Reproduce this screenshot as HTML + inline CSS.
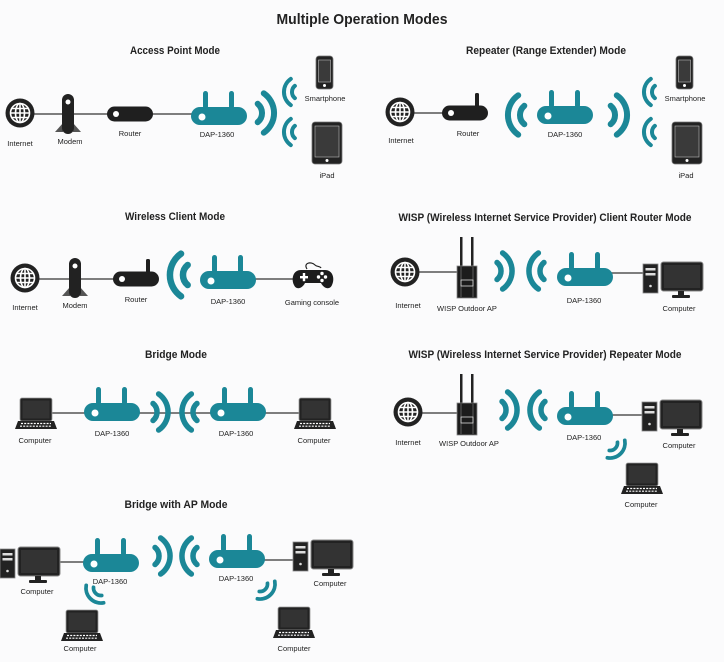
<!DOCTYPE html>
<html><head><meta charset="utf-8"><style>
html,body{margin:0;padding:0;background:#fbfbfc;}
svg{display:block;font-family:"Liberation Sans",sans-serif;}
.t{font-weight:bold;font-size:11px;fill:#222;text-anchor:middle;}
.l{font-size:7.5px;fill:#222;text-anchor:middle;}
.ln{stroke:#555;stroke-width:1.6;fill:none;}
</style></head><body>
<svg width="724" height="662" viewBox="0 0 724 662" xmlns="http://www.w3.org/2000/svg">
<defs>
<g id="globe"><circle r="14.5" fill="#222"/><g fill="none" stroke="#fff" stroke-width="1.6"><circle r="9.5"/><ellipse rx="4.5" ry="9.5"/><line x1="0" y1="-9.5" x2="0" y2="9.5"/><line x1="-9.5" y1="0" x2="9.5" y2="0"/><line x1="-8.5" y1="-4.5" x2="8.5" y2="-4.5"/><line x1="-8.5" y1="4.5" x2="8.5" y2="4.5"/></g></g>
<g id="modem"><polygon points="-5,8 -13,17 -5,17" fill="#555"/><polygon points="5,8 13,17 5,17" fill="#555"/><rect x="-6" y="-21" width="12" height="40" rx="6" fill="#222"/><circle cx="0" cy="-13" r="2.5" fill="#fff"/></g>
<g id="router"><rect x="-23" y="-7.5" width="46" height="15" rx="7.5" fill="#1f1f1f"/><circle cx="-14" cy="0" r="3" fill="#fff"/></g>
<g id="routerA"><rect x="10" y="-20" width="4" height="14" rx="1.5" fill="#1f1f1f"/><use href="#router"/></g>
<g id="dap"><rect x="-16" y="-25" width="5" height="18" rx="2.5" fill="#1b8797"/><rect x="10" y="-25" width="5" height="18" rx="2.5" fill="#1b8797"/><rect x="-28" y="-9" width="56" height="18" rx="9" fill="#1b8797"/><circle cx="-17" cy="1" r="3.5" fill="#fff"/></g>
<g id="wave" fill="none" stroke="#1b8797" stroke-width="5" stroke-linecap="round"><path d="M6.4,-7.7 A10,10 0 0 1 6.4,7.7"/><path d="M11.5,-16.4 A20,20 0 0 1 11.5,16.4"/></g>
<g id="phone"><rect x="0" y="0" width="17" height="33" rx="3" fill="#222" stroke="#777" stroke-width="0.8"/><rect x="2.5" y="4" width="12" height="22" fill="#3a3a3a" stroke="#bbb" stroke-width="0.6"/><circle cx="8.5" cy="29.5" r="1.5" fill="#fff"/></g>
<g id="ipad"><rect x="0" y="0" width="30" height="42" rx="3" fill="#222" stroke="#777" stroke-width="0.8"/><rect x="3" y="4" width="24" height="31" fill="#3a3a3a" stroke="#bbb" stroke-width="0.6"/><circle cx="15" cy="38.5" r="1.5" fill="#fff"/></g>
<g id="comp"><rect x="0" y="2" width="15" height="29" fill="#222" stroke="#888" stroke-width="0.8"/><rect x="2.5" y="6" width="10" height="2.5" fill="#ddd"/><rect x="2.5" y="11" width="10" height="2.5" fill="#ddd"/><circle cx="7.5" cy="24" r="1.3" fill="#ddd"/><rect x="18" y="0" width="42" height="29" rx="2.5" fill="#222" stroke="#888" stroke-width="1"/><rect x="21" y="3" width="36" height="23" fill="#333"/><rect x="35" y="29" width="6" height="4" fill="#222"/><rect x="29" y="33" width="18" height="3" rx="1" fill="#222"/></g>
<g id="laptop"><rect x="3" y="0" width="32" height="23" rx="2" fill="#222" stroke="#999" stroke-width="0.8"/><rect x="5.5" y="2.5" width="27" height="18" fill="#333"/><polygon points="1,23 37,23 40,31 -2,31" fill="#222"/><g stroke="#fff" stroke-width="1.2" stroke-dasharray="2 1.2"><line x1="4" y1="25.5" x2="34" y2="25.5"/><line x1="3" y1="28.2" x2="35" y2="28.2"/></g></g>
<g id="wisp"><rect x="3" y="0" width="2.5" height="32" fill="#222"/><rect x="14" y="0" width="2.5" height="32" fill="#222"/><rect x="0" y="29" width="20" height="32" fill="#1c1c1c" stroke="#888" stroke-width="0.8"/><line x1="4" y1="30" x2="4" y2="60" stroke="#777" stroke-width="0.7"/><line x1="16" y1="30" x2="16" y2="60" stroke="#777" stroke-width="0.7"/><rect x="4" y="43" width="12" height="6" fill="none" stroke="#ddd" stroke-width="0.8"/></g>
<g id="pad"><path d="M-6,-8 C-10,-14 -2,-16 2,-12 C4,-10 7,-11 8,-9" fill="none" stroke="#222" stroke-width="1.2"/><path d="M-12,-7 H12 C20,-7 22,2 19,8 C17,13 11,12 8,6 H-8 C-11,12 -17,13 -19,8 C-22,2 -20,-7 -12,-7 Z" fill="#1c1c1c"/><rect x="-13" y="-1" width="8" height="2.4" fill="#fff"/><rect x="-10.2" y="-4" width="2.4" height="8.2" fill="#fff"/><circle cx="9" cy="-3.5" r="1.7" fill="#fff"/><circle cx="9" cy="3.5" r="1.7" fill="#fff"/><circle cx="5.5" cy="0" r="1.7" fill="#fff"/><circle cx="12.5" cy="0" r="1.7" fill="#fff"/></g>
</defs>
<rect width="724" height="662" fill="#fbfbfc"/>
<text x="362" y="24" class="t" style="font-size:15px" textLength="171" lengthAdjust="spacingAndGlyphs">Multiple Operation Modes</text>

<!-- Access Point Mode -->
<text x="175" y="54" class="t" textLength="90" lengthAdjust="spacingAndGlyphs">Access Point Mode</text>
<line x1="20" y1="114" x2="212" y2="114" class="ln"/>
<use href="#globe" x="20" y="113"/>
<use href="#modem" x="68" y="115"/>
<use href="#router" x="130" y="114"/>
<use href="#dap" x="219" y="116"/>
<use href="#wave" transform="translate(250,113) scale(1.2)"/>
<use href="#wave" transform="translate(300,92) scale(-0.8,0.8)"/>
<use href="#wave" transform="translate(300,132) scale(-0.8,0.8)"/>
<use href="#phone" x="316" y="56"/>
<use href="#ipad" x="312" y="122"/>
<text x="20" y="146" class="l">Internet</text>
<text x="70" y="144" class="l">Modem</text>
<text x="130" y="136" class="l">Router</text>
<text x="217" y="137" class="l">DAP-1360</text>
<text x="325" y="101" class="l">Smartphone</text>
<text x="327" y="178" class="l">iPad</text>

<!-- Repeater -->
<text x="546" y="54" class="t" textLength="160" lengthAdjust="spacingAndGlyphs">Repeater (Range Extender) Mode</text>
<line x1="400" y1="113" x2="465" y2="113" class="ln"/>
<use href="#globe" x="400" y="112"/>
<use href="#routerA" x="465" y="113"/>
<use href="#wave" transform="translate(532,115) scale(-1.2,1.2)"/>
<use href="#dap" x="565" y="115"/>
<use href="#wave" transform="translate(603,115) scale(1.2)"/>
<use href="#wave" transform="translate(660,92) scale(-0.8,0.8)"/>
<use href="#wave" transform="translate(660,132) scale(-0.8,0.8)"/>
<use href="#phone" x="676" y="56"/>
<use href="#ipad" x="672" y="122"/>
<text x="401" y="143" class="l">Internet</text>
<text x="468" y="136" class="l">Router</text>
<text x="565" y="137" class="l">DAP-1360</text>
<text x="685" y="101" class="l">Smartphone</text>
<text x="686" y="178" class="l">iPad</text>

<!-- Wireless Client -->
<text x="175" y="220" class="t" textLength="100" lengthAdjust="spacingAndGlyphs">Wireless Client Mode</text>
<line x1="25" y1="279" x2="136" y2="279" class="ln"/>
<line x1="228" y1="279" x2="300" y2="279" class="ln"/>
<use href="#globe" x="25" y="278"/>
<use href="#modem" x="75" y="279"/>
<use href="#routerA" x="136" y="279"/>
<use href="#wave" transform="translate(196,275) scale(-1.3,1.3)"/>
<use href="#dap" x="228" y="280"/>
<use href="#pad" x="313" y="277"/>
<text x="25" y="310" class="l">Internet</text>
<text x="75" y="308" class="l">Modem</text>
<text x="136" y="302" class="l">Router</text>
<text x="228" y="304" class="l">DAP-1360</text>
<text x="312" y="305" class="l">Gaming console</text>

<!-- WISP client -->
<text x="545" y="221" class="t" textLength="293" lengthAdjust="spacingAndGlyphs">WISP (Wireless Internet Service Provider) Client Router Mode</text>
<line x1="405" y1="272" x2="460" y2="272" class="ln"/>
<line x1="585" y1="273" x2="645" y2="273" class="ln"/>
<use href="#globe" x="405" y="272"/>
<use href="#wisp" x="457" y="237"/>
<use href="#wave" transform="translate(490,271) scale(1.1)"/>
<use href="#wave" transform="translate(551,271) scale(-1.1,1.1)"/>
<use href="#dap" x="585" y="277"/>
<use href="#comp" x="643" y="262"/>
<text x="408" y="308" class="l">Internet</text>
<text x="467" y="311" class="l">WISP Outdoor AP</text>
<text x="584" y="303" class="l">DAP-1360</text>
<text x="679" y="311" class="l">Computer</text>

<!-- Bridge -->
<text x="176" y="358" class="t" textLength="62" lengthAdjust="spacingAndGlyphs">Bridge Mode</text>
<line x1="45" y1="413" x2="300" y2="413" class="ln"/>
<use href="#laptop" x="17" y="398"/>
<use href="#dap" x="112" y="412"/>
<use href="#wave" transform="translate(146,412) scale(1.1)"/>
<use href="#wave" transform="translate(204,412) scale(-1.1,1.1)"/>
<use href="#dap" x="238" y="412"/>
<use href="#laptop" x="296" y="398"/>
<text x="35" y="443" class="l">Computer</text>
<text x="112" y="436" class="l">DAP-1360</text>
<text x="236" y="436" class="l">DAP-1360</text>
<text x="314" y="443" class="l">Computer</text>

<!-- WISP repeater -->
<text x="545" y="358" class="t" textLength="273" lengthAdjust="spacingAndGlyphs">WISP (Wireless Internet Service Provider) Repeater Mode</text>
<line x1="408" y1="413" x2="460" y2="413" class="ln"/>
<line x1="585" y1="415" x2="645" y2="415" class="ln"/>
<use href="#globe" x="408" y="412"/>
<use href="#wisp" x="457" y="374"/>
<use href="#wave" transform="translate(495,410) scale(1.1)"/>
<use href="#wave" transform="translate(552,410) scale(-1.1,1.1)"/>
<use href="#dap" x="585" y="416"/>
<use href="#comp" x="642" y="400"/>
<use href="#wave" transform="translate(610,443) rotate(45) scale(0.75)"/>
<use href="#laptop" x="623" y="463"/>
<text x="408" y="445" class="l">Internet</text>
<text x="469" y="446" class="l">WISP Outdoor AP</text>
<text x="584" y="440" class="l">DAP-1360</text>
<text x="679" y="448" class="l">Computer</text>
<text x="641" y="507" class="l">Computer</text>

<!-- Bridge with AP -->
<text x="176" y="508" class="t" textLength="103" lengthAdjust="spacingAndGlyphs">Bridge with AP Mode</text>
<line x1="58" y1="562" x2="111" y2="562" class="ln"/>
<line x1="237" y1="560" x2="295" y2="560" class="ln"/>
<use href="#comp" x="0" y="547"/>
<use href="#dap" x="111" y="563"/>
<use href="#wave" transform="translate(101,588) rotate(135) scale(0.75)"/>
<use href="#laptop" x="63" y="610"/>
<use href="#wave" transform="translate(148,556) scale(1.1)"/>
<use href="#wave" transform="translate(204,556) scale(-1.1,1.1)"/>
<use href="#dap" x="237" y="559"/>
<use href="#comp" x="293" y="540"/>
<use href="#wave" transform="translate(260,584) rotate(45) scale(0.75)"/>
<use href="#laptop" x="275" y="607"/>
<text x="37" y="594" class="l">Computer</text>
<text x="110" y="584" class="l">DAP-1360</text>
<text x="80" y="651" class="l">Computer</text>
<text x="236" y="581" class="l">DAP-1360</text>
<text x="330" y="586" class="l">Computer</text>
<text x="294" y="651" class="l">Computer</text>
</svg>
</body></html>
